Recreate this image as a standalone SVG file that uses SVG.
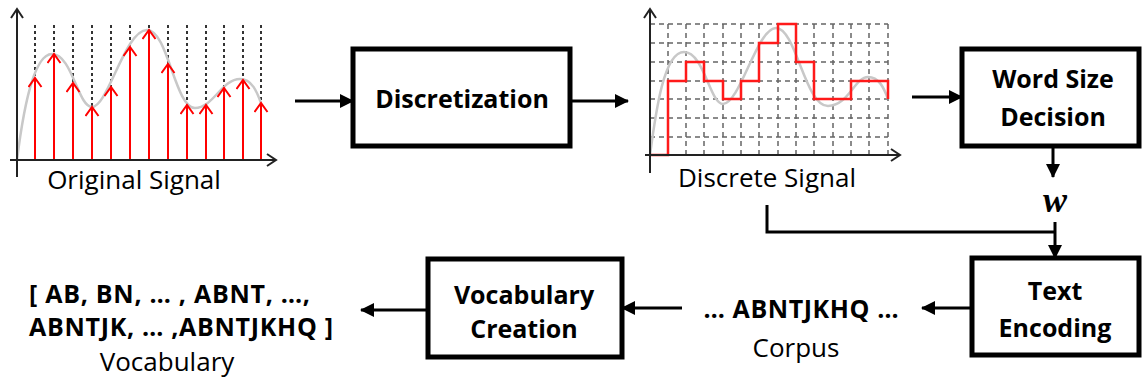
<svg xmlns="http://www.w3.org/2000/svg" width="1143" height="381" viewBox="0 0 1143 381">
<defs>
<marker id="ah" viewBox="0 0 14 14" refX="13" refY="7" markerWidth="14" markerHeight="14" markerUnits="userSpaceOnUse" orient="auto"><path d="M0,0 L14,7 L0,14 z" fill="#000"/></marker>
<marker id="rc" viewBox="-1 -1 12 15" refX="9" refY="6.5" markerWidth="12" markerHeight="15" markerUnits="userSpaceOnUse" orient="auto"><path d="M0,0 L9,6.5 L0,13" fill="none" stroke="#ff0000" stroke-width="2"/></marker>
<marker id="kc" viewBox="-1 -1 12 14" refX="9" refY="6" markerWidth="12" markerHeight="14" markerUnits="userSpaceOnUse" orient="auto"><path d="M0,0 L9,6 L0,12" fill="none" stroke="#222" stroke-width="2"/></marker>
</defs>
<style>
.box{fill:#fff;stroke:#000;stroke-width:5}
.bl{font-family:"Open Sans","Liberation Sans",sans-serif;font-weight:bold;font-size:25px;fill:#000;text-anchor:middle}
.rg{font-family:"Open Sans","Liberation Sans",sans-serif;font-size:26px;fill:#000;text-anchor:middle}
.con{stroke:#000;stroke-width:3;fill:none}
.axis{stroke:#222;stroke-width:2;fill:none}
.dot{stroke:#333;stroke-width:2;stroke-dasharray:3,3;fill:none}
.grid{stroke:#666;stroke-width:1.5;stroke-dasharray:5,4;fill:none}
.curve{stroke:#c8c8c8;stroke-width:2.5;fill:none}
.red{stroke:#ff0000;stroke-width:2;fill:none}
</style>
<rect width="1143" height="381" fill="#fff"/>

<g id="original-signal">
<g class="dot">
<path d="M35,25V160M54,25V160M73,25V160M92,25V160M111,25V160M130,25V160M149,25V160M168,25V160M187,25V160M206,25V160M224,25V160M243,25V160M261,25V160"/>
</g>
<path class="curve" d="M17,160 C22,120 32,54 52,54 C72,54 78,107 92,107 C108,107 125,30 147,30 C168,30 175,108 195,108 C213,108 222,79 240,79 C252,79 257,92 261,103"/>
<g class="red">
<path d="M35,160V78" marker-end="url(#rc)"/>
<path d="M54,160V54" marker-end="url(#rc)"/>
<path d="M73,160V83" marker-end="url(#rc)"/>
<path d="M92,160V107" marker-end="url(#rc)"/>
<path d="M111,160V87" marker-end="url(#rc)"/>
<path d="M130,160V47" marker-end="url(#rc)"/>
<path d="M149,160V30" marker-end="url(#rc)"/>
<path d="M168,160V64" marker-end="url(#rc)"/>
<path d="M187,160V105" marker-end="url(#rc)"/>
<path d="M206,160V105" marker-end="url(#rc)"/>
<path d="M224,160V88" marker-end="url(#rc)"/>
<path d="M243,160V80" marker-end="url(#rc)"/>
<path d="M261,160V103" marker-end="url(#rc)"/>
</g>
<path class="axis" d="M17,177V9" marker-end="url(#kc)"/>
<path class="axis" d="M10,160H276" marker-end="url(#kc)"/>
<text class="rg" x="134" y="189">Original Signal</text>
</g>

<g id="discretization">
<rect class="box" x="353" y="49" width="217" height="97"/>
<text class="bl" x="462" y="108">Discretization</text>
</g>

<g id="discrete-signal">
<g class="grid">
<path d="M668,24V155M686,24V155M704,24V155M723,24V155M741,24V155M759,24V155M778,24V155M796,24V155M814,24V155M833,24V155M851,24V155M869,24V155M888,24V155"/>
<path d="M650,24H888M650,43H888M650,62H888M650,81H888M650,99H888M650,118H888M650,137H888"/>
</g>
<path class="curve" d="M650,155 C656,110 664,52 684,52 C704,52 710,104 723,104 C740,104 757,28 776,28 C796,28 805,106 828,106 C848,106 855,77 868,77 C879,77 884,88 888,99"/>
<path d="M650,155 H668 V81 H686 V62 H704 V81 H723 V99 H741 V81 H759 V43 H778 V24 H796 V62 H814 V99 H851 V81 H888 V99" fill="none" stroke="#ff1a1a" stroke-width="2.5"/>
<path class="axis" d="M650,173V9" marker-end="url(#kc)"/>
<path class="axis" d="M645,155H900" marker-end="url(#kc)"/>
<text class="rg" x="767" y="187">Discrete Signal</text>
</g>

<g id="word-size-decision">
<rect class="box" x="962" y="49" width="177" height="97"/>
<text class="bl" x="1053" y="88">Word Size</text>
<text class="bl" x="1053" y="126">Decision</text>
</g>

<g id="w-label">
<text x="1055" y="212" font-family="'Liberation Serif',serif" font-weight="bold" font-style="italic" font-size="36" text-anchor="middle">w</text>
</g>

<g id="text-encoding">
<rect class="box" x="972" y="258" width="167" height="97"/>
<text class="bl" x="1055" y="300">Text</text>
<text class="bl" x="1055" y="337">Encoding</text>
</g>

<g id="corpus">
<text class="bl" x="801" y="318" textLength="195">… ABNTJKHQ …</text>
<text class="rg" x="796" y="357">Corpus</text>
</g>

<g id="vocabulary-creation">
<rect class="box" x="428" y="259" width="194" height="98"/>
<text class="bl" x="524" y="304">Vocabulary</text>
<text class="bl" x="524" y="338">Creation</text>
</g>

<g id="vocabulary">
<text class="bl" x="29" y="303" style="text-anchor:start" textLength="281">[ AB, BN, … , ABNT, …,</text>
<text class="bl" x="29" y="336" style="text-anchor:start" textLength="304">ABNTJK, … ,ABNTJKHQ ]</text>
<text class="rg" x="167" y="371">Vocabulary</text>
</g>

<g id="connectors">
<path class="con" d="M295,101H353" marker-end="url(#ah)"/>
<path class="con" d="M570,101H628" marker-end="url(#ah)"/>
<path class="con" d="M912,97H962" marker-end="url(#ah)"/>
<path class="con" d="M1053,146V177" marker-end="url(#ah)"/>
<path class="con" d="M767,205V232H1055"/>
<path class="con" d="M1055,222V258" marker-end="url(#ah)"/>
<path class="con" d="M972,308H922" marker-end="url(#ah)"/>
<path class="con" d="M682,308H622" marker-end="url(#ah)"/>
<path class="con" d="M428,310H361" marker-end="url(#ah)"/>
</g>
</svg>
